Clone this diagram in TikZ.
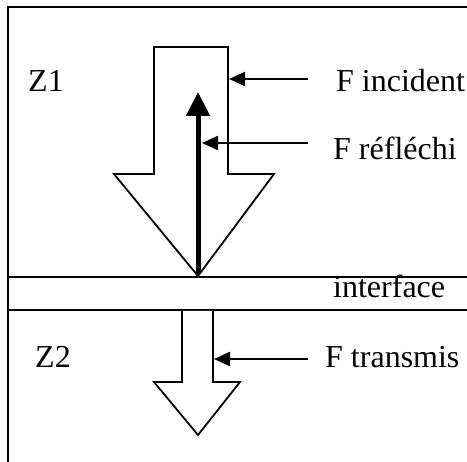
\documentclass[tikz,border=0pt]{standalone}
\usepackage{fontspec}
\setmainfont{Liberation Serif}
\usetikzlibrary{arrows.meta}
\begin{document}
\begin{tikzpicture}[x=1pt,y=-1pt,
  frame/.style={draw, line width=1.8pt},
  outline/.style={draw, line width=1.8pt, fill=white, line join=miter},
  pointer/.style={-{Triangle[length=16pt,width=14pt]}, line width=2.2pt},
  lbl/.style={font=\fontsize{32}{36}\selectfont, anchor=base west, inner sep=0pt}]
\useasboundingbox (0,0) rectangle (467,462);
% frame and interface band
\draw[frame] (8,462) -- (8,7) -- (467,7);
\draw[frame] (8,277) -- (467,277);
\draw[frame] (8,310) -- (467,310);
% incident arrow
\draw[outline] (154,47) -- (228,47) -- (228,174) -- (274,174) -- (198,276) -- (114,174) -- (154,174) -- cycle;
% reflected arrow
\coordinate (refBase) at (198,274);
\coordinate (refTip) at (198,92);
\draw[-{Triangle[length=24pt,width=23pt]}, line width=5pt] (refBase) -- (refTip);
% transmitted arrow
\draw[outline] (182,311) -- (182,382) -- (154,382) -- (198,435) -- (240,382) -- (213,382) -- (213,311);
% labels
\node[lbl] (z1) at (28,92) {Z1};
\node[lbl] (z2) at (35,368) {Z2};
\node[lbl] (inc) at (336,92) {F incident};
\node[lbl] (refl) at (333,160) {F réfléchi};
\node[lbl] (itf) at (333,298) {interface};
\node[lbl] (trans) at (325,368) {F transmis};
% pointers
\coordinate (incS) at (308,79);
\coordinate (incE) at (229,79);
\coordinate (refS) at (308,143);
\coordinate (refE) at (202,143);
\coordinate (trS) at (308,359);
\coordinate (trE) at (214,359);
\draw[pointer] (incS) -- (incE);
\draw[pointer] (refS) -- (refE);
\draw[pointer] (trS) -- (trE);
\end{tikzpicture}
\end{document}
